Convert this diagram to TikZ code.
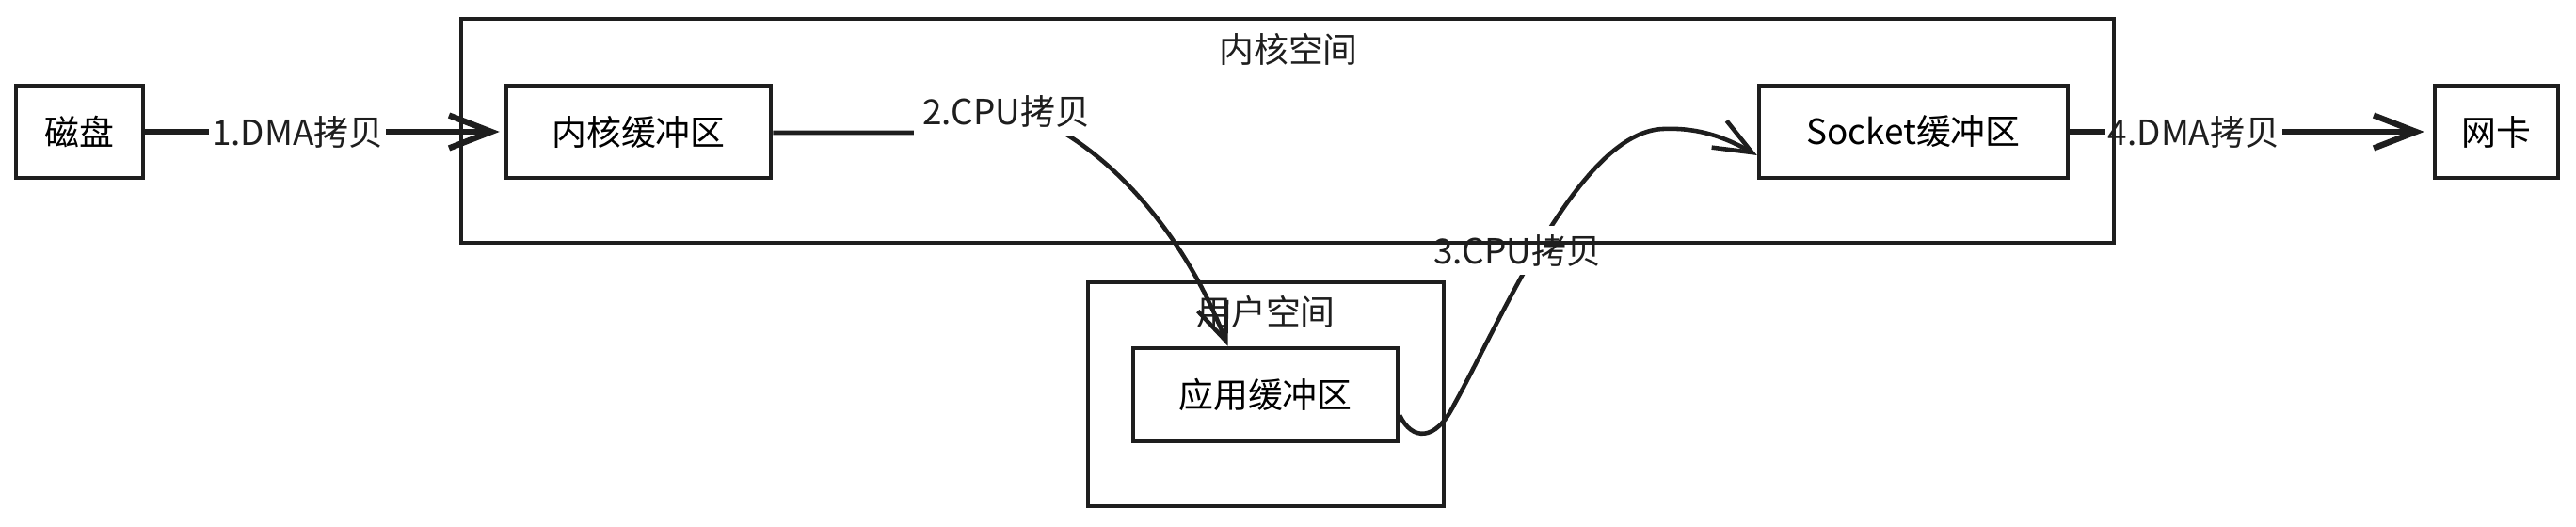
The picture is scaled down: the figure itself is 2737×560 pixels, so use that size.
\documentclass[tikz,border=0pt]{standalone}
\usepackage{fontspec}
\setmainfont{Noto Sans CJK SC}
\usepackage{tikz}
\usetikzlibrary{arrows.meta,positioning}
\definecolor{ink}{HTML}{1E1E1E}
\tikzset{
  bufbox/.style={draw=ink,line width=2.6pt,minimum height=1.96cm,
                 inner sep=0pt,font=\fontsize{21}{25}\selectfont},
  spacebox/.style={draw=ink,line width=2.6pt,inner sep=0pt},
  spacetitle/.style={font=\fontsize{21}{25}\selectfont,text=ink},
  flowlabel/.style={fill=white,inner xsep=1.5pt,inner ysep=5pt,text=ink,
                    font=\fontsize{21}{25}\selectfont},
  arrowdma/.style={-{Straight Barb[length=9mm,width=7mm]},line width=3.6pt,ink},
  arrowcpu/.style={-{Straight Barb[length=8mm,width=6.5mm]},line width=2.6pt,ink},
}

\begin{document}
\begin{tikzpicture}[x=0.02cm,y=-0.02cm]
  \useasboundingbox (0,0) rectangle (2737,560);

  % ---- Devices and buffers ----
  \node[bufbox,minimum width=2.70cm] (disk) at (84.5,140) {磁盘};
  \node[bufbox,minimum width=5.62cm] (kbuf) at (678.5,140) {内核缓冲区};
  \node[bufbox,minimum width=6.56cm] (sbuf) at (2033,140) {Socket缓冲区};
  \node[bufbox,minimum width=2.62cm] (nic) at (2652.5,140) {网卡};
  \node[bufbox,minimum width=5.62cm,minimum height=1.98cm]
    (app) at (1344.5,419.5) {应用缓冲区};

  % ---- Copy paths ----
  \draw[arrowdma] (disk.east) -- node[flowlabel,pos=0.43] (dma1) {1.DMA拷贝}
    ([xshift=-0.1cm]kbuf.west);

  \draw[arrowcpu] ([yshift=-0.02cm]kbuf.east) -- (1130,141)
    .. controls (1195,180) and (1262,258) .. ([xshift=-0.8cm]app.north);
  \node[flowlabel,inner xsep=5pt] (cpu2) at (1069,118) {2.CPU拷贝};

  \draw[arrowcpu] ([yshift=-0.44cm]app.east)
    .. controls (1500,468) and (1525,470) .. (1545,430)
    .. controls (1600,330) and (1680,140) .. (1767,137)
    .. controls (1810,135) and (1840,150) .. ([yshift=-0.5cm]sbuf.west);
  \node[flowlabel,inner xsep=5pt] (cpu3) at (1612,266) {3.CPU拷贝};

  \draw[arrowdma] (sbuf.east) -- node[flowlabel,pos=0.35] (dma4) {4.DMA拷贝}
    ([xshift=-0.18cm]nic.west);

  % ---- Kernel and user space ----
  \node[spacebox,minimum width=35.12cm,minimum height=4.76cm]
    (kspace) at (1368,139) {};
  \node[spacetitle] (ktitle) at (1369,52) {内核空间};

  \node[spacebox,minimum width=7.56cm,minimum height=4.76cm]
    (uspace) at (1345,419) {};
  \node[spacetitle] (utitle) at (1345,331) {用户空间};
\end{tikzpicture}
\end{document}
